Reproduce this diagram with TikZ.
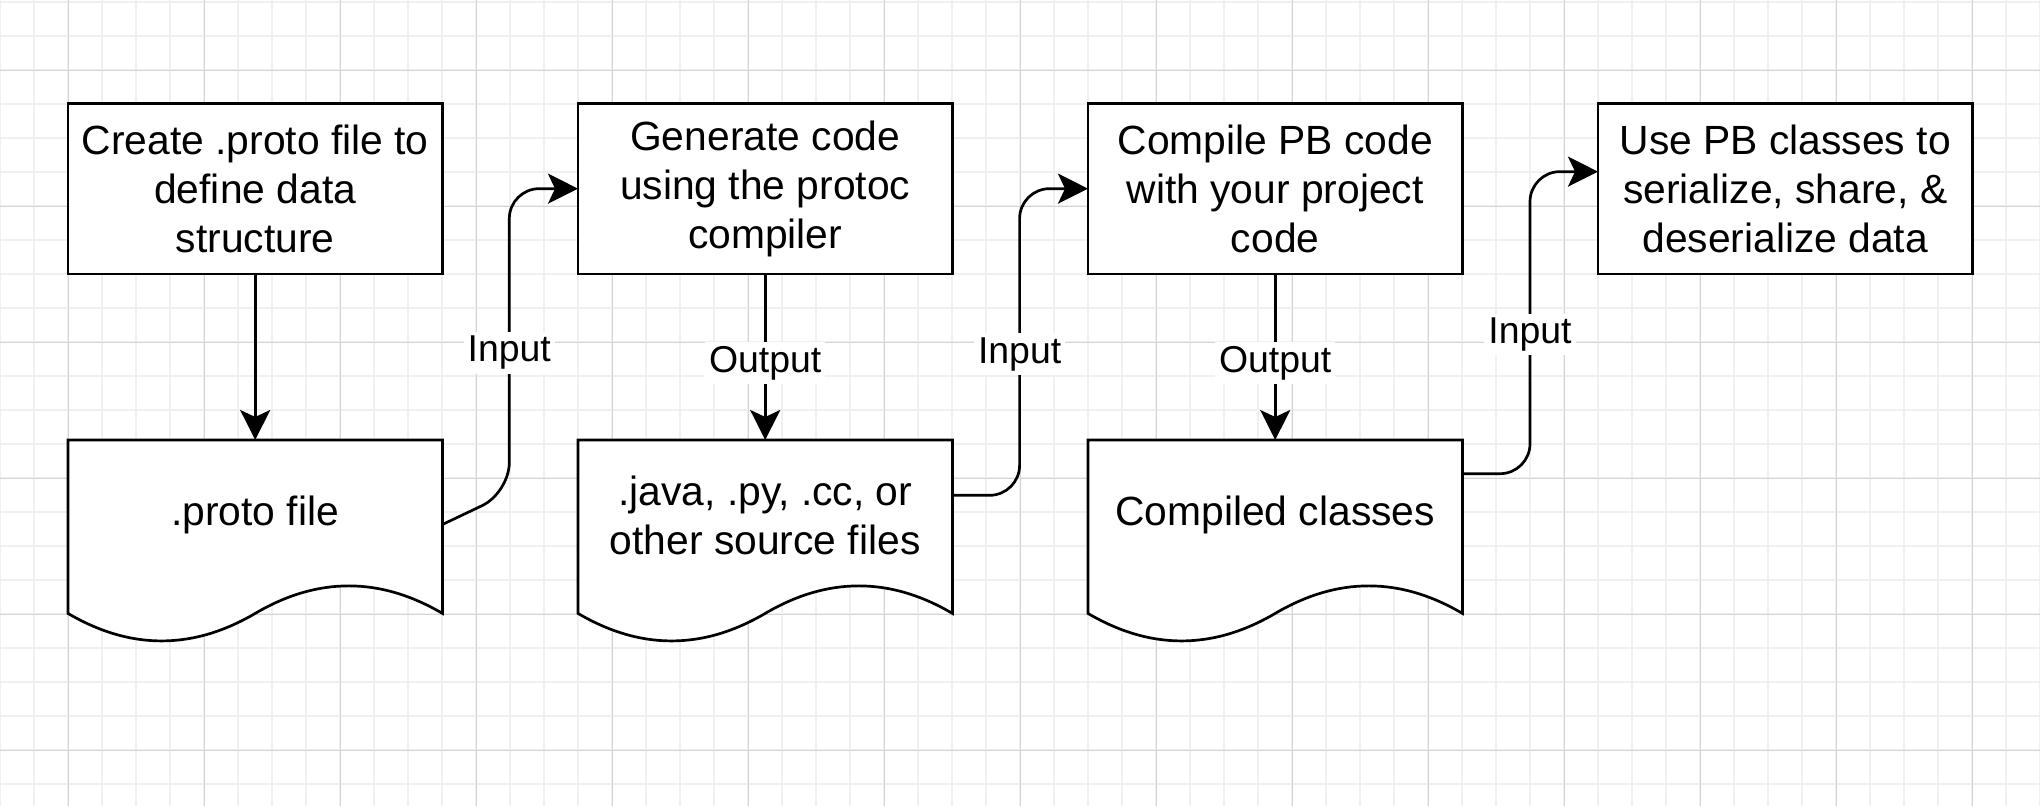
\documentclass[tikz,border=0pt]{standalone}
\usepackage{fontspec}
\setmainfont{Liberation Sans}
\usepackage{tikz}
\usetikzlibrary{positioning,arrows.meta,backgrounds}
\definecolor{gridminor}{RGB}{240,240,240}
\definecolor{gridmajor}{RGB}{212,212,212}

\begin{document}
\begin{tikzpicture}[x=1pt, y=-1pt,
		stepbox/.style={draw, fill=white, line width=2.7pt, minimum width=374.4pt, minimum height=170.7pt, outer sep=0pt, align=center, font=\fontsize{40.8}{49}\selectfont},
		docbox/.style={minimum width=374.4pt, minimum height=150pt, outer sep=0pt, align=center, font=\fontsize{40.8}{49}\selectfont},
		docline/.style={draw, fill=white, line width=2.7pt},
		flow/.style={line width=2.7pt, rounded corners=30pt, -{Stealth[length=30pt, width=30pt, inset=7pt]}},
		lbl/.style={fill=white, sharp corners, inner sep=4pt, yshift=-6pt, font=\fontsize{37.4}{45}\selectfont}]
		\useasboundingbox (0,0) rectangle (2040,806);
		\begin{scope}[on background layer]
			\fill[white] (0,0) rectangle (2040,806);
			\foreach \i in {0,...,60} \draw[gridminor, line width=1.2pt] (34*\i,0) -- (34*\i,806);
			\foreach \j in {0,...,23} \draw[gridminor, line width=1.2pt] (0,2+34*\j) -- (2040,2+34*\j);
			\foreach \i in {0,...,14} \draw[gridmajor, line width=1pt] (68+136*\i,0) -- (68+136*\i,806);
			\foreach \j in {0,...,5} \draw[gridmajor, line width=1pt] (0,70+136*\j) -- (2040,70+136*\j);
		\end{scope}
		\node[stepbox] (create) at (255.2,188.65) {Create .proto file to\\define data\\structure};
		\node[stepbox, right=135.6pt of create] (generate) {Generate code\\using the protoc\\compiler};
		\node[stepbox, right=135.6pt of generate] (compile) {Compile PB code\\with your project\\code};
		\node[stepbox, right=135.6pt of compile] (use) {Use PB classes to\\serialize, share, \&\\deserialize data};
		\node[docbox, below=166pt of create] (proto) {.proto file};
		\node[docbox, below=166pt of generate] (java) {.java, .py, .cc, or\\other source files};
		\node[docbox, below=166pt of compile] (classes) {Compiled classes};
		\begin{scope}[on background layer]
			\foreach \d in {proto,java,classes}
				\draw[docline, shift={(\d.north west)}] (0,0) -- (374.4,0) -- (374.4,173.4)
					.. controls (312,136.7) and (249.6,136.7) .. (187.2,173.4)
					.. controls (124.8,210.1) and (62.4,210.1) .. (0,173.4) -- cycle;
		\end{scope}
		\draw[flow] (create) -- (proto);
		\draw[flow] (generate) -- node[lbl] (out1) {Output} (java);
		\draw[flow] (compile) -- node[lbl] (out2) {Output} (classes);
		\draw[flow] ([yshift=-9.5pt]proto.east) -- ++(66.9,-31.8) |- node[lbl, pos=0.24] (in1) {Input} (generate.west);
		\draw[flow] ([yshift=19.7pt]java.east) -- ++(67.2,0) |- node[lbl, pos=0.24] (in2) {Input} (compile.west);
		\draw[flow] ([yshift=41.3pt]classes.east) -- ++(67.6,0) |- node[lbl, pos=0.24] (in3) {Input} ([yshift=17pt]use.west);
	\end{tikzpicture}
\end{document}
